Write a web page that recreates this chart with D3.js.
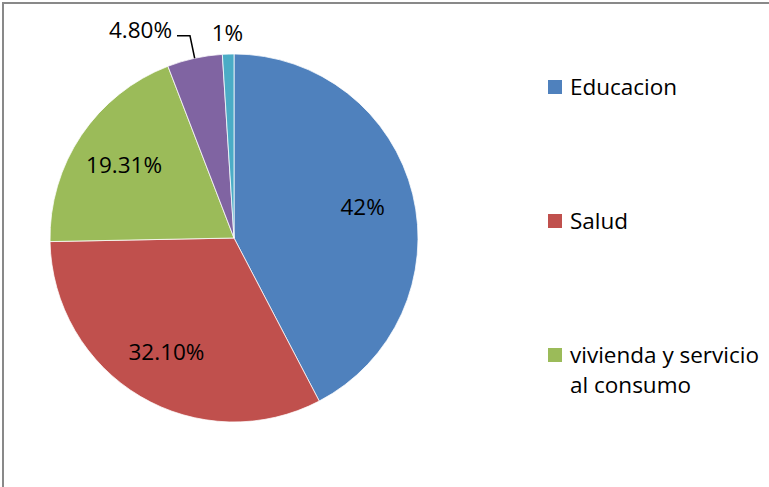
<!DOCTYPE html>
<html>
<head>
<meta charset="utf-8">
<script src="https://d3js.org/d3.v7.min.js"></script>
<style>
  * { margin: 0; padding: 0; }
  body { background: #fff; overflow: hidden; }
  svg { display: block; font-family: "Open Sans", "Noto Sans", sans-serif; }
</style>
</head>
<body>
<svg id="chart" width="769" height="487"></svg>
<script>
// values (percent), starting at 12 o'clock, clockwise
const values = [42, 32.10, 19.31, 4.80, 1];
const labels = ["42%", "32.10%", "19.31%", "4.80%", "1%"];
const colors = ["#4F81BD", "#C0504D", "#9BBB59", "#8064A2", "#4BACC6"];
// only the first three legend entries fit in the frame
const legendNames = ["Educacion", "Salud", "vivienda y servicio al consumo"];

const width = 769, height = 487;
const cx = 234, cy = 238, radius = 184;

const svg = d3.select("#chart");

// chart frame (right and bottom edges fall outside the picture)
svg.append("rect")
  .attr("x", 3).attr("y", 3)
  .attr("width", width + 20).attr("height", height + 20)
  .attr("fill", "none")
  .attr("stroke", "#898989")
  .attr("stroke-width", 2);

const pie = d3.pie().sort(null).value(d => d);
const arcs = pie(values);
const arc = d3.arc().innerRadius(0).outerRadius(radius);
const labelArc = d3.arc().innerRadius(radius * 0.72).outerRadius(radius * 0.72);

const g = svg.append("g").attr("transform", `translate(${cx},${cy})`);

g.selectAll("path.slice")
  .data(arcs)
  .enter()
  .append("path")
  .attr("class", "slice")
  .attr("d", arc)
  .attr("fill", (d, i) => colors[i])
  .attr("stroke", "#fff")
  .attr("stroke-width", 0.75);

const fontSize = 22.5;
const mid = d => (d.startAngle + d.endAngle) / 2;

arcs.forEach((d, i) => {
  const share = (d.endAngle - d.startAngle) / (2 * Math.PI);
  if (share > 0.08) {
    const [x, y] = labelArc.centroid(d);
    g.append("text")
      .attr("x", x).attr("y", y)
      .attr("text-anchor", "middle")
      .attr("dominant-baseline", "central")
      .attr("font-size", fontSize)
      .attr("fill", "#000")
      .text(labels[i]);
  } else {
    const a = mid(d);
    const rOut = radius + 22;
    const ex = Math.sin(a) * rOut, ey = -Math.cos(a) * rOut;
    const isLast = i === arcs.length - 1;
    if (isLast) {
      g.append("text")
        .attr("x", ex).attr("y", ey)
        .attr("text-anchor", "middle")
        .attr("dominant-baseline", "central")
        .attr("font-size", fontSize)
        .text(labels[i]);
    } else {
      // pushed aside to clear the neighbour label, with a leader line
      const px = Math.sin(a) * radius, py = -Math.cos(a) * radius;
      const ly = ey - 1;
      g.append("polyline")
        .attr("points", [[px, py], [ex, ly], [ex - 13, ly]].map(p => p.join(",")).join(" "))
        .attr("fill", "none")
        .attr("stroke", "#000")
        .attr("stroke-width", 1.5);
      g.append("text")
        .attr("x", ex - 18).attr("y", ly - 6)
        .attr("text-anchor", "end")
        .attr("dominant-baseline", "central")
        .attr("font-size", fontSize)
        .text(labels[i]);
    }
  }
});

// legend
const legendX = 548, legendY0 = 80, legendStep = 134, lineH = 30, maxW = 196;
legendNames.forEach((name, i) => {
  const y = legendY0 + i * legendStep;
  svg.append("rect")
    .attr("x", legendX).attr("y", y)
    .attr("width", 14).attr("height", 14)
    .attr("fill", colors[i]);
  const t = svg.append("text")
    .attr("x", legendX + 22).attr("y", y + 15)
    .attr("font-size", fontSize)
    .attr("fill", "#000");
  // simple word wrap
  const words = name.split(" ");
  let line = [];
  let tspan = t.append("tspan").attr("x", legendX + 22).attr("dy", 0);
  words.forEach(w => {
    line.push(w);
    tspan.text(line.join(" "));
    if (tspan.node().getComputedTextLength() > maxW && line.length > 1) {
      line.pop();
      tspan.text(line.join(" "));
      line = [w];
      tspan = t.append("tspan").attr("x", legendX + 22).attr("dy", lineH).text(w);
    }
  });
});
</script>
</body>
</html>
